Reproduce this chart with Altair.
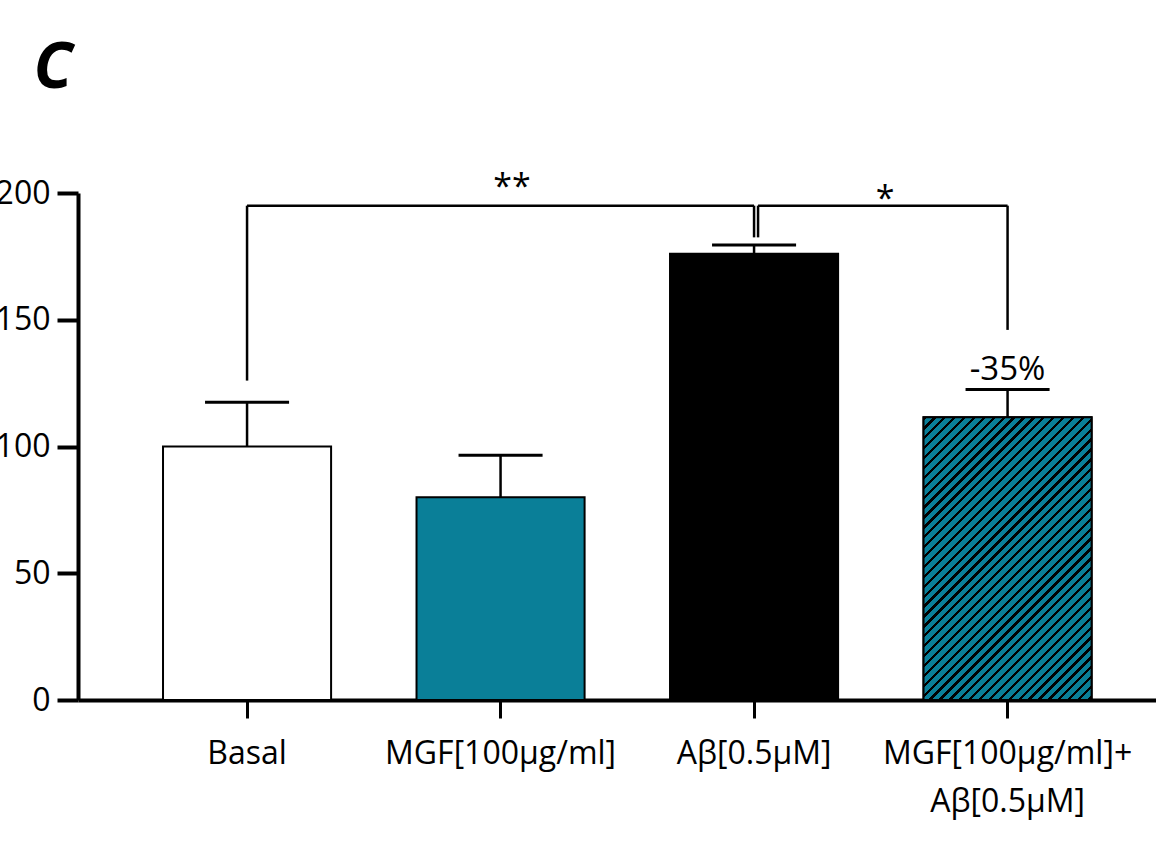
import math
import altair as alt
import pandas as pd

# --- data -------------------------------------------------------------
categories = ["Basal", "MGF[100μg/ml]", "Aβ[0.5μM]", "MGF[100μg/ml]+\nAβ[0.5μM]"]
means = [100, 80, 176, 111.5]
upper = [117.5, 96.5, 179.5, 122.5]          # mean + SEM
fills = ["#ffffff", "#0a7f98", "#000000", "#0a7f98"]

# significance brackets
sig_from = ["Basal", "Aβ[0.5μM]"]
sig_to = ["Aβ[0.5μM]", "MGF[100μg/ml]+\nAβ[0.5μM]"]
sig_level = [195, 195]
sig_left_end = [126, 182.5]
sig_right_end = [182.5, 146]
sig_marks = ["**", "*"]

change_label = ["-35%"]
panel_label = ["C"]

# --- layout -----------------------------------------------------------
PLOT_W, PLOT_H = 1078, 507
Y_MAX = 200
PAD_INNER, PAD_OUTER, ALIGN = 0.337, 0.2947, 0.569
FONT = "Open Sans"
TEAL = fills[1]

step = PLOT_W / (len(categories) - PAD_INNER + 2 * PAD_OUTER)
bar_w = step * (1 - PAD_INNER)

bars = pd.DataFrame({"group": categories, "mean": means, "upper": upper})
brackets = pd.DataFrame({
    "a": sig_from, "b": sig_to, "level": sig_level,
    "end_a": sig_left_end, "end_b": sig_right_end, "mark": sig_marks,
})


def hatch_gradient(height_px, width_px, pitch=7.0, line=2.3):
    """Diagonal '/' stripes as a hard-stop linear gradient over the bar box."""
    k = (width_px + height_px) / (width_px ** 2 + height_px ** 2)
    period = pitch * math.sqrt(2) / (width_px + height_px)
    dark = line * math.sqrt(2) / (width_px + height_px)
    stops = []
    t = 0.0
    while t < 1:
        a, b, c = t, min(t + dark, 1), min(t + period, 1)
        stops += [
            {"offset": a, "color": "#000000"},
            {"offset": b, "color": "#000000"},
            {"offset": b, "color": TEAL},
            {"offset": c, "color": TEAL},
        ]
        t += period
    return alt.LinearGradient(
        gradient="linear", stops=stops,
        x1=0, y1=0, x2=width_px * k, y2=height_px * k,
    )


x_scale = alt.Scale(domain=categories, paddingInner=PAD_INNER,
                    paddingOuter=PAD_OUTER, align=ALIGN)
y_scale = alt.Scale(domain=[0, Y_MAX], nice=False, zero=True)

x_axis = alt.Axis(
    title=None, labelAngle=0, labelFont=FONT, labelFontSize=32,
    labelColor="black", labelPadding=20, labelLineHeight=48,
    labelBaseline="top", labelLimit=0, labelOverlap=False, labelBound=False,
    labelFlush=False, labelExpr="split(datum.label, '\\n')",
    tickSize=18, tickWidth=3, tickColor="black",
    domainColor="black", domainWidth=4, grid=False,
)
y_axis = alt.Axis(
    title=None, values=[0, 50, 100, 150, 200], labelFont=FONT,
    labelFontSize=32, labelColor="black", labelPadding=7,
    tickSize=21, tickWidth=4, tickColor="black",
    domainColor="black", domainWidth=4, grid=False,
)

X = alt.X("group:N", scale=x_scale, axis=x_axis, sort=categories)
XA = alt.X("a:N", scale=x_scale, sort=categories)
XB = alt.X("b:N", scale=x_scale, sort=categories)
Y = alt.Y("mean:Q", scale=y_scale, axis=y_axis)
LINE = dict(color="black", strokeWidth=2.5, opacity=1)

base = alt.Chart(bars)

bar_layer = base.mark_bar(stroke="black", strokeWidth=2).encode(
    x=X, y=Y,
    color=alt.Color("group:N", scale=alt.Scale(domain=categories, range=fills),
                    legend=None),
)

combo_h = means[3] / Y_MAX * PLOT_H
hatch_layer = base.transform_filter(
    alt.datum.group == categories[3]
).mark_bar(fill=hatch_gradient(combo_h, bar_w), stroke="black",
           strokeWidth=2).encode(x=X, y=Y)

err_line = base.mark_rule(**LINE).encode(x=X, y=Y, y2="upper:Q")
err_cap = base.mark_tick(color="black", opacity=1, size=bar_w / 2,
                         thickness=3).encode(x=X, y=alt.Y("upper:Q", scale=y_scale, axis=y_axis))

br = alt.Chart(brackets)
left_br = br.transform_filter(alt.datum.mark == "**")
right_br = br.transform_filter(alt.datum.mark == "*")

# "**": Basal vs Aβ
l_top = left_br.mark_rule(**LINE).encode(x=XA, x2="b:N", y="level:Q")
l_drop_a = left_br.mark_rule(**LINE).encode(x=XA, y="level:Q", y2="end_a:Q")
l_drop_b = left_br.mark_rule(**LINE).encode(x=XB, y="level:Q", y2="end_b:Q")
# "*": Aβ vs MGF+Aβ (starts just right of the first bracket's drop)
r_top = right_br.mark_rule(xOffset=4, **LINE).encode(x=XA, x2="b:N", y="level:Q")
r_drop_a = right_br.mark_rule(xOffset=4, **LINE).encode(x=XA, y="level:Q", y2="end_a:Q")
r_drop_b = right_br.mark_rule(**LINE).encode(x=XB, y="level:Q", y2="end_b:Q")

star2 = left_br.mark_text(
    font=FONT, fontSize=34, color="black", baseline="alphabetic", dx=265,
    dy=-8).encode(x=XA, y="level:Q", text="mark:N")
star1 = right_br.mark_text(
    font=FONT, fontSize=34, color="black", baseline="alphabetic", dx=131,
    dy=4).encode(x=XA, y="level:Q", text="mark:N")

change = alt.Chart(pd.DataFrame({
    "group": [categories[3]], "pos": [130], "txt": change_label,
})).mark_text(font=FONT, fontSize=33, color="black",
              baseline="middle").encode(x=X, y="pos:Q", text="txt:N")

panel = alt.Chart(pd.DataFrame({"txt": panel_label})).mark_text(
    font=FONT, fontSize=64, fontWeight="bold", fontStyle="italic",
    color="black", align="center", baseline="alphabetic",
).encode(x=alt.value(-25), y=alt.value(-105), text="txt:N")

chart = alt.layer(
    bar_layer, hatch_layer, err_line, err_cap,
    l_top, l_drop_a, l_drop_b, r_top, r_drop_a, r_drop_b,
    star2, star1, change, panel,
).properties(
    width=PLOT_W, height=PLOT_H,
    background="white",
    padding={"left": 78, "top": 193, "right": 0, "bottom": 163},
    autosize=alt.AutoSizeParams(type="none"),
).configure_view(strokeWidth=0, stroke="transparent").configure_axis(
    grid=False)

chart.save("out.html", embed_options={"renderer": "svg", "actions": False})
